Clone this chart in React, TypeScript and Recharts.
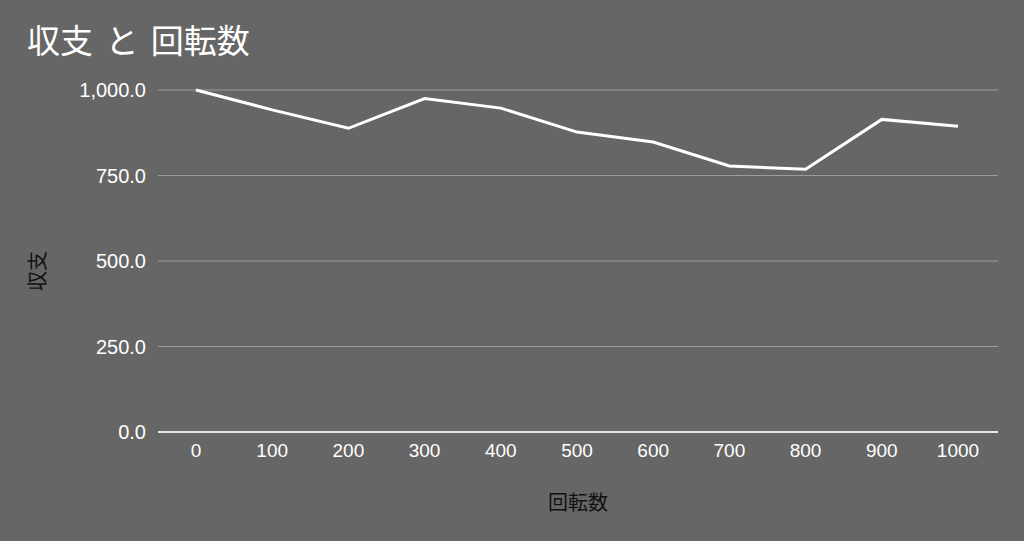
import React from 'react';
import { LineChart, Line, XAxis, YAxis, CartesianGrid } from 'recharts';

const spins = ['0', '100', '200', '300', '400', '500', '600', '700', '800', '900', '1000'];
const balance = [1000, 942, 888, 975, 947, 877, 848, 778, 768, 914, 894];
const yTicks = [0, 250, 500, 750, 1000];

const data = spins.map((s, i) => ({ spin: s, balance: balance[i] }));

const fmt = (v: number) =>
  v.toLocaleString('en-US', { minimumFractionDigits: 1, maximumFractionDigits: 1 });

const FONT = '"Liberation Sans", Arial, sans-serif';
const CJK = '"Noto Sans CJK JP", sans-serif';

export default function App() {
  return (
    <div style={{ position: 'absolute', left: 0, top: 0, width: 1024, height: 541, background: '#666666' }}>
      <div
        style={{
          position: 'absolute',
          left: 27,
          top: 14,
          fontFamily: CJK,
          fontSize: 33,
          color: '#ffffff',
          lineHeight: '50px',
          whiteSpace: 'pre',
          wordSpacing: 5,
        }}
      >
        収支 と 回転数
      </div>
      <LineChart
        width={1024}
        height={541}
        data={data}
        margin={{ top: 90, right: 26, bottom: 0, left: 0 }}
      >
        <CartesianGrid vertical={false} stroke="#9c9c9c" strokeWidth={1} />
        <XAxis
          dataKey="spin"
          height={109}
          tickLine={false}
          tickSize={0}
          tickMargin={12}
          axisLine={{ stroke: '#e6e6e6', strokeWidth: 2 }}
          padding={{ left: 38, right: 40 }}
          interval={0}
          tick={{ fill: '#ffffff', fontSize: 19, fontFamily: FONT }}
          label={(props: any) => (
            <text
              x={578}
              y={510}
              textAnchor="middle"
              fill="#111111"
              fontSize={20}
              fontFamily={CJK}
            >
              回転数
            </text>
          )}
        />
        <YAxis
          width={158}
          domain={[0, 1000]}
          ticks={yTicks}
          tickFormatter={fmt}
          tickLine={false}
          tickSize={0}
          tickMargin={12}
          axisLine={false}
          tick={{ fill: '#ffffff', fontSize: 20, fontFamily: FONT }}
          label={(props: any) => (
            <text
              x={36}
              y={271}
              transform="rotate(-90 36 271)"
              textAnchor="middle"
              dominantBaseline="central"
              fill="#111111"
              fontSize={20}
              fontFamily={CJK}
            >
              収支
            </text>
          )}
        />
        <Line
          type="linear"
          dataKey="balance"
          stroke="#ffffff"
          strokeWidth={3}
          dot={false}
          activeDot={false}
          isAnimationActive={false}
        />
      </LineChart>
    </div>
  );
}
